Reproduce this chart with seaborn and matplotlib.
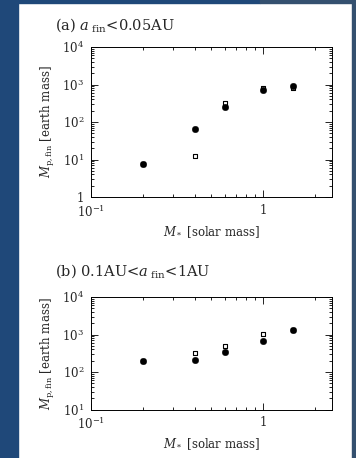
import matplotlib
matplotlib.use("Agg")
import matplotlib.pyplot as plt
import matplotlib.patches as mpatches
from matplotlib.ticker import LogLocator, FixedLocator, FixedFormatter, NullFormatter
import seaborn as sns
import pandas as pd

# ---- data ----
mstar = [0.2, 0.4, 0.6, 1.0, 1.5]
a_filled = [7.5, 66, 257, 720, 930]
a_open = [7.5, 12.2, 321, 795, 800]
b_filled = [195, 212, 352, 689, 1320]
b_open = [200, 318, 486, 1040, 1350]

panel_titles = [r"(a) $a_{\rm \ fin}$<0.05AU", r"(b) 0.1AU<$a_{\rm \ fin}$<1AU"]
xlabel = r"$M_*$ [solar mass]"
ylabel = r"$M_{\rm p,fin}$ [earth mass]"
x_ticks = [0.1, 1]
x_ticklabels = [r"$10^{-1}$", "1"]
a_yticks = [1, 10, 100, 1000, 10000]
a_yticklabels = ["1", r"$10^{1}$", r"$10^{2}$", r"$10^{3}$", r"$10^{4}$"]
b_yticks = [10, 100, 1000, 10000]
b_yticklabels = [r"$10^{1}$", r"$10^{2}$", r"$10^{3}$", r"$10^{4}$"]

sns.set_style("ticks")
plt.rcParams["font.family"] = ["DejaVu Serif"]
plt.rcParams["mathtext.fontset"] = "dejavuserif"

W, H = 356, 458
fig = plt.figure(figsize=(W / 100, H / 100), dpi=100, facecolor="white")

# page background strips
blue = "#1f4879"
gray = "#34506f"
fig.patches.append(mpatches.Rectangle((0, 0), 18 / W, 1, transform=fig.transFigure, color=blue, zorder=-10))
fig.patches.append(mpatches.Rectangle((352 / W, 0), 4 / W, 1, transform=fig.transFigure, color=gray, zorder=-10))
fig.patches.append(mpatches.Rectangle((0, 1 - 3 / H), 260 / W, 3 / H, transform=fig.transFigure, color=blue, zorder=-10))
fig.patches.append(mpatches.Rectangle((260 / W, 1 - 3 / H), 96 / W, 3 / H, transform=fig.transFigure, color=gray, zorder=-10))

left = 91 / W
width = (332 - 91) / W
ax_a = fig.add_axes([left, 1 - 197 / H, width, (197 - 47) / H])
ax_b = fig.add_axes([left, 1 - 409.5 / H, width, (409.5 - 297) / H])

panels = [
    (ax_a, a_filled, a_open, (1, 1e4), a_yticks, a_yticklabels, panel_titles[0], 30),
    (ax_b, b_filled, b_open, (10, 1e4), b_yticks, b_yticklabels, panel_titles[1], 276),
]

for ax, filled, opened, ylim, yt, ytl, title, ty in panels:
    df = pd.DataFrame({"mstar": mstar, "filled": filled, "open": opened})
    sns.scatterplot(data=df, x="mstar", y="open", marker="s", s=12, facecolor="white",
                    edgecolor="black", linewidth=0.8, ax=ax, zorder=3)
    sns.scatterplot(data=df, x="mstar", y="filled", marker="o", s=22, color="black",
                    edgecolor="black", linewidth=0.3, ax=ax, zorder=4)
    ax.set_xscale("log")
    ax.set_yscale("log")
    ax.set_xlim(0.1, 2.52)
    ax.set_ylim(*ylim)
    ax.xaxis.set_major_locator(FixedLocator(x_ticks))
    ax.xaxis.set_major_formatter(FixedFormatter(x_ticklabels))
    ax.xaxis.set_minor_locator(LogLocator(base=10, subs=range(2, 10), numticks=20))
    ax.xaxis.set_minor_formatter(NullFormatter())
    ax.yaxis.set_major_locator(FixedLocator(yt))
    ax.yaxis.set_major_formatter(FixedFormatter(ytl))
    ax.yaxis.set_minor_locator(LogLocator(base=10, subs=range(2, 10), numticks=20))
    ax.yaxis.set_minor_formatter(NullFormatter())
    ax.tick_params(which="both", direction="in", top=True, right=True, color="black", width=0.6)
    ax.tick_params(which="major", length=5, labelsize=8.5)
    ax.tick_params(axis="y", which="major", pad=5)
    ax.tick_params(axis="x", which="major", pad=5)
    ax.tick_params(which="minor", length=2.5)
    for sp in ax.spines.values():
        sp.set_linewidth(0.7)
        sp.set_color("black")
    ax.set_xlabel(xlabel, fontsize=8.5, labelpad=3)
    ax.set_ylabel(ylabel, fontsize=8.5, labelpad=4)
    ax.set_facecolor("white")
    fig.text(55 / W, 1 - ty / H, title, fontsize=10.5, ha="left", va="baseline")

fig.savefig("out.png", dpi=100, facecolor=fig.get_facecolor())
